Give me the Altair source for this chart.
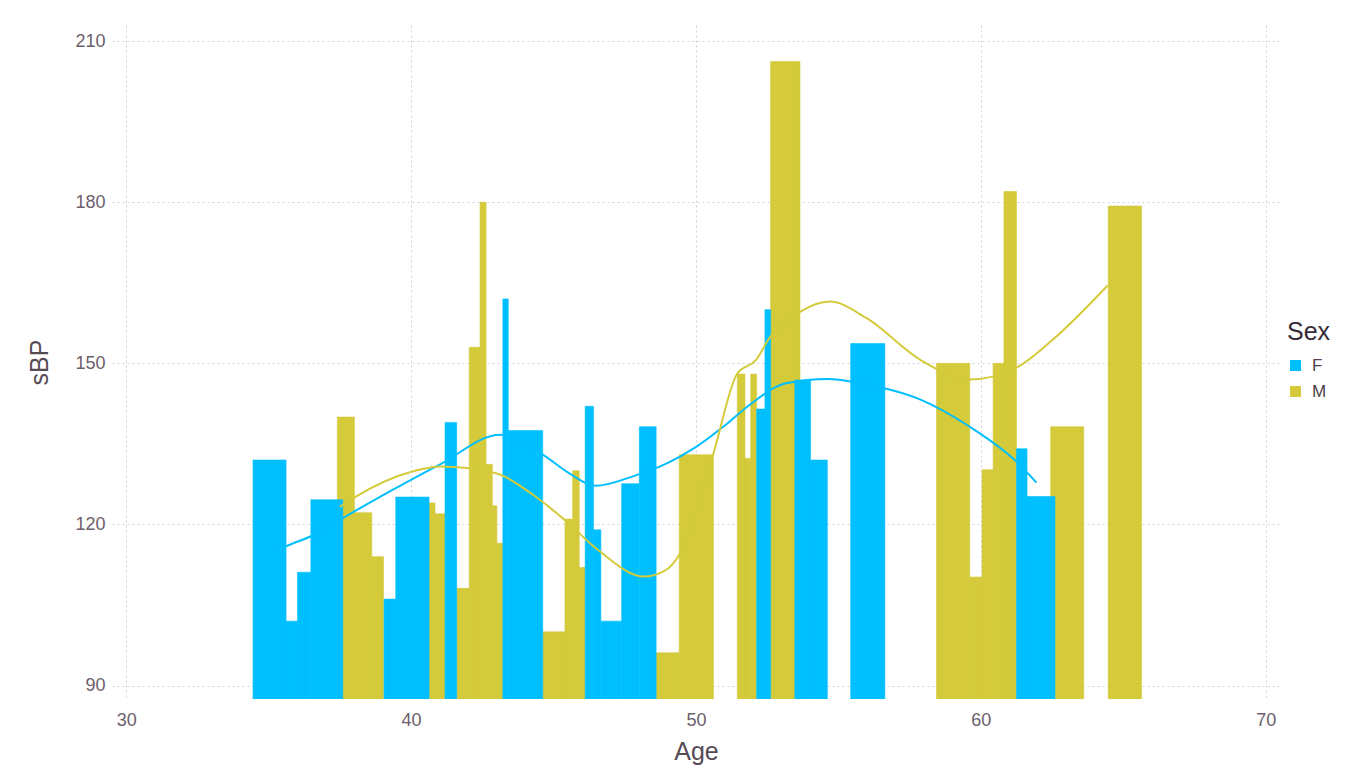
import altair as alt
import pandas as pd

# ---- bar data (age range start, end, sBP) ----
m_x0 = [37.41, 37.60, 38.62, 40.63, 40.84, 41.60, 42.04, 42.42, 42.63, 42.85, 43.01,
        44.62, 45.40, 45.67, 45.90, 48.60, 49.41, 51.45, 51.72, 51.92, 52.62,
        58.44, 59.61, 60.04, 60.43, 60.81, 62.45, 64.47]
m_x1 = [38.01, 38.62, 39.03, 40.84, 41.19, 42.04, 42.42, 42.63, 42.85, 43.01, 43.22,
        45.40, 45.67, 45.90, 46.11, 49.41, 50.61, 51.72, 51.92, 52.13, 53.65,
        59.61, 60.04, 60.43, 60.81, 61.25, 63.61, 65.64]
m_val = [140, 122.2, 114, 124, 122, 108.1, 153, 180, 131.2, 123.5, 116.5,
         100, 121, 130, 112, 96.1, 133, 148, 132.3, 148, 206.2,
         150, 110.2, 130.2, 150, 182, 138.2, 179.3]

f_x0 = [34.45, 35.61, 36.01, 36.48, 39.05, 39.46, 41.19, 43.22, 43.41, 46.11, 46.40,
        46.66, 47.39, 48.01, 52.13, 52.42, 53.47, 54.02, 55.43, 61.25, 61.62]
f_x1 = [35.61, 36.01, 36.48, 37.60, 39.50, 40.63, 41.60, 43.41, 44.62, 46.40, 46.66,
        47.39, 48.01, 48.60, 52.42, 52.62, 54.02, 54.61, 56.63, 61.62, 62.60]
f_val = [132, 102, 111.1, 124.6, 106.1, 125.1, 139, 162, 137.5, 142, 119,
         102, 127.6, 138.2, 141.5, 160, 146.9, 132, 153.7, 134.1, 125.2]

# ---- smooth lines ----
f_line_x = [35.3, 35.61, 36.48, 37.60, 39.30, 41.02, 43.12, 44.62, 45.53, 46.46, 47.86,
            49.03, 49.96, 51.12, 51.89, 53.16, 54.63, 55.74, 57.86, 59.61, 61.25, 61.95]
f_line_y = [115.0, 115.9, 117.8, 121.2, 126.3, 131.2, 136.7, 133.0, 129.6, 127.2, 129.1,
            131.5, 134.3, 138.9, 142.3, 146.3, 147.1, 146.3, 143.3, 138.2, 131.7, 127.8]

m_line_x = [37.5, 37.97, 40.07, 41.02, 41.96, 43.25, 44.18, 45.38, 46.55, 48.18, 48.88,
            49.45, 50.62, 51.45, 52.10, 52.60, 53.65, 54.70, 55.99, 57.86, 59.61, 61.25,
            62.52, 64.45]
m_line_y = [123.3, 124.9, 129.9, 130.8, 130.5, 129.0, 125.9, 120.9, 115.3, 110.3, 111.3,
            114.7, 133.4, 148.1, 150.6, 154.9, 159.6, 161.5, 158.4, 150.7, 147.0, 149.2,
            154.4, 164.5]

x_ticks = [30, 40, 50, 60, 70]
y_ticks = [90, 120, 150, 180, 210]
sexes = ["F", "M"]
colors = ["#00BFFF", "#D4CA3A"]
BASE = 0

bars = pd.DataFrame({
    "x0": m_x0 + f_x0,
    "x1": m_x1 + f_x1,
    "sBP": m_val + f_val,
    "Sex": ["M"] * len(m_x0) + ["F"] * len(f_x0),
})
lines = pd.DataFrame({
    "Age": f_line_x + m_line_x,
    "sBP": f_line_y + m_line_y,
    "Sex": ["F"] * len(f_line_x) + ["M"] * len(m_line_x),
})

xscale = alt.Scale(domain=[29.5, 70.5], nice=False, zero=False)
yscale = alt.Scale(domain=[87.5, 213], nice=False, zero=False)
cscale = alt.Scale(domain=sexes, range=colors)

tick_font = 18
title_font = 25

xaxis = alt.Axis(values=x_ticks, title="Age", grid=True, ticks=False, domain=False,
                 labelFontSize=tick_font, labelColor="#6C606B", labelPadding=12,
                 titleFontSize=title_font, titleColor="#564A55", titleFontWeight="normal",
                 titlePadding=10, gridColor="#D0D0E0", gridDash=[2, 3], labelFlush=False)
yaxis = alt.Axis(values=y_ticks, title="sBP", grid=True, ticks=False, domain=False,
                 labelFontSize=tick_font, labelColor="#6C606B", labelPadding=7,
                 titleFontSize=title_font, titleColor="#564A55", titleFontWeight="normal",
                 titlePadding=22, gridColor="#D0D0E0", gridDash=[2, 3], labelFlush=False)

bar_layer = alt.Chart(bars).mark_rect(clip=True, strokeWidth=0.6).encode(
    x=alt.X("x0:Q", scale=xscale, axis=xaxis),
    x2="x1:Q",
    y=alt.Y("sBP:Q", scale=yscale, axis=yaxis),
    y2=alt.datum(BASE),
    color=alt.Color("Sex:N", scale=cscale,
                    legend=alt.Legend(orient="none", legendX=1175, legendY=295,
                                      symbolType="square", symbolSize=121,
                                      titleFontSize=title_font, titleColor="#362A35",
                                      titleFontWeight="normal", labelFontSize=17,
                                      labelColor="#4C404B", titlePadding=12,
                                      rowPadding=8, labelOffset=8, symbolStrokeWidth=0)),
    stroke=alt.Stroke("Sex:N", scale=cscale, legend=None),
)

line_layer = alt.Chart(lines).mark_line(strokeWidth=2, clip=True, interpolate="monotone").encode(
    x=alt.X("Age:Q", scale=xscale),
    y=alt.Y("sBP:Q", scale=yscale),
    color=alt.Color("Sex:N", scale=cscale),
    detail="Sex:N",
)

chart = alt.layer(bar_layer, line_layer).properties(
    width=1168, height=674,
    autosize=alt.AutoSizeParams(type="none"),
    padding={"left": 104, "top": 17, "right": 62, "bottom": 70},
).configure(
    font="Liberation Sans",
).configure_view(stroke=None)

chart.save("out.html", embed_options={"renderer": "svg", "actions": False})
